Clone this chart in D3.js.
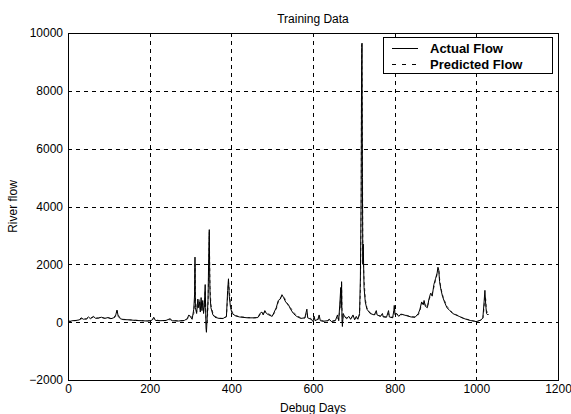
<!DOCTYPE html>
<html>
<head>
<meta charset="utf-8">
<script src="https://cdn.jsdelivr.net/npm/d3@7"></script>
<style>
  html, body { margin: 0; padding: 0; background: #fff; }
  svg { display: block; font-family: "Liberation Sans", Arial, sans-serif; }
</style>
</head>
<body>
<svg id="chart" width="571" height="414"></svg>
<script>
// Daily river flow: observed vs. model output over the training period
const days = [0,5,10,20,28,32,38,45,50,55,62,68,75,82,90,98,105,112,117,120,123,128,135,150,165,180,195,205,210,214,225,240,250,255,270,285,292,296,300,304,308,310,311,312,315,318,320,322,324,326,328,330,332,334,336,337,338,339,341,343,345,346,347,348,350,355,360,370,380,388,391,393,395,398,402,410,420,440,455,465,470,475,478,482,486,492,500,505,510,515,520,524,528,533,540,545,552,560,570,580,585,587,595,600,603,605,612,615,618,625,635,640,645,655,660,663,666,668,669,670,671,672,674,677,682,688,692,698,702,706,710,714,716,718,719,720,721,722,723,725,728,732,740,750,755,757,765,770,772,780,785,787,795,798,799,801,805,810,815,820,828,840,850,858,862,866,870,872,875,880,884,888,892,896,900,904,906,908,910,913,917,922,928,935,942,950,958,965,975,985,995,1000,1005,1012,1016,1019,1021,1023,1025,1028,1030];
const actualFlow = [60,20,50,60,80,150,100,120,180,120,200,130,150,170,130,160,120,150,250,420,200,120,90,80,60,50,40,60,170,60,50,60,120,50,40,60,120,250,180,100,450,950,2250,500,300,800,500,700,350,850,400,750,300,600,1300,500,-200,-350,200,800,2600,3200,1600,900,500,250,170,130,130,200,1100,1500,900,500,300,220,180,150,150,160,300,350,250,400,300,250,200,350,500,750,800,950,850,700,600,450,300,200,130,150,450,150,100,30,200,50,100,250,50,30,50,100,20,60,250,50,700,1200,500,1400,100,-150,300,200,120,200,100,250,80,200,100,300,1500,4500,8700,9650,5000,2000,2700,1200,700,450,300,250,400,250,200,300,180,170,400,180,150,400,580,250,300,200,280,260,230,180,170,300,450,700,600,750,550,500,800,1000,900,1300,1500,1700,1900,1800,1400,1150,900,700,500,400,300,250,200,150,100,60,30,20,40,80,150,700,1100,600,300,250,280];
const predictedFlow = [40,30,45,55,60,120,110,100,150,140,170,150,130,160,140,150,130,140,200,380,250,140,100,80,70,55,45,50,130,80,50,55,90,60,45,50,100,200,220,150,300,700,2000,800,350,600,650,800,450,700,500,650,400,500,1100,700,100,-100,0,600,2200,3100,2000,1200,600,300,200,140,120,180,900,1400,1100,600,350,230,190,160,150,155,250,300,300,350,350,280,220,300,450,700,850,900,900,750,550,500,350,230,150,140,300,200,120,50,150,80,80,150,80,40,40,80,40,50,150,100,500,1000,800,1300,500,0,200,250,150,150,120,200,120,150,120,250,1000,4000,9600,8800,6000,2500,2200,1500,800,500,320,260,300,260,210,260,200,180,300,200,160,300,500,300,280,220,250,270,240,190,180,250,400,650,650,700,600,520,750,950,1000,1200,1450,1650,1850,1850,1500,1200,950,750,550,420,330,260,210,160,110,70,40,30,50,70,120,500,900,800,400,300,260];

const xTicks = [0, 200, 400, 600, 800, 1000, 1200];
const yTicks = [-2000, 0, 2000, 4000, 6000, 8000, 10000];
const legendLabels = ["Actual Flow", "Predicted Flow"];

const svg = d3.select("#chart");
const plot = { left: 68, right: 558, top: 33, bottom: 380 };

const x = d3.scaleLinear().domain([0, 1200]).range([plot.left, plot.right]);
const y = d3.scaleLinear().domain([-2000, 10000]).range([plot.bottom, plot.top]);

// grid
const grid = svg.append("g").attr("stroke", "#000").attr("stroke-width", 1)
  .attr("stroke-dasharray", "4,4").attr("shape-rendering", "crispEdges");
xTicks.slice(1, -1).forEach(t => {
  grid.append("line").attr("x1", Math.round(x(t)) + 0.5).attr("x2", Math.round(x(t)) + 0.5)
    .attr("y1", plot.top).attr("y2", plot.bottom);
});
yTicks.slice(1, -1).forEach(t => {
  grid.append("line").attr("y1", Math.round(y(t)) + 0.5).attr("y2", Math.round(y(t)) + 0.5)
    .attr("x1", plot.left).attr("x2", plot.right);
});

// series
const pts = (vals) => days.map((d, i) => [d, vals[i]]);
const line = d3.line().x(d => x(d[0])).y(d => y(d[1]));

svg.append("path").datum(pts(predictedFlow))
  .attr("d", line).attr("fill", "none").attr("stroke", "#444")
  .attr("stroke-width", 1).attr("stroke-dasharray", "3,3");
svg.append("path").datum(pts(actualFlow))
  .attr("d", line).attr("fill", "none").attr("stroke", "#000")
  .attr("stroke-width", 1);

// axes box
svg.append("rect").attr("x", plot.left + 0.5).attr("y", plot.top + 0.5)
  .attr("width", plot.right - plot.left).attr("height", plot.bottom - plot.top)
  .attr("fill", "none").attr("stroke", "#000").attr("shape-rendering", "crispEdges");

const xAxis = d3.axisBottom(x).tickValues(xTicks).tickSize(0).tickPadding(4).tickFormat(d3.format("d"));
const yAxis = d3.axisLeft(y).tickValues(yTicks).tickSize(0).tickPadding(5).tickFormat(d3.format("d"));

const gx = svg.append("g").attr("transform", `translate(0,${plot.bottom})`).call(xAxis);
const gy = svg.append("g").attr("transform", `translate(${plot.left},0)`).call(yAxis);
[gx, gy].forEach(g => {
  g.select(".domain").remove();
  g.selectAll("text").attr("font-size", 12).attr("fill", "#000")
    .attr("font-family", "'Liberation Sans', Arial, sans-serif");
});

// titles
svg.append("text").attr("x", (plot.left + plot.right) / 2).attr("y", 23)
  .attr("text-anchor", "middle").attr("font-size", 12).text("Training Data");
svg.append("text").attr("x", (plot.left + plot.right) / 2).attr("y", 412)
  .attr("text-anchor", "middle").attr("font-size", 12).text("Debug Days");
svg.append("text").attr("transform", `translate(17,${(plot.top + plot.bottom) / 2}) rotate(-90)`)
  .attr("text-anchor", "middle").attr("font-size", 12).text("River flow");

// legend
const lg = svg.append("g");
lg.append("rect").attr("x", 383.5).attr("y", 37.5).attr("width", 169).attr("height", 36)
  .attr("fill", "#fff").attr("stroke", "#000").attr("shape-rendering", "crispEdges");
legendLabels.forEach((lab, i) => {
  const ly = 48 + i * 16;
  lg.append("line").attr("x1", 392).attr("x2", 418).attr("y1", ly + 0.5).attr("y2", ly + 0.5)
    .attr("stroke", "#000").attr("stroke-dasharray", i === 0 ? null : "4,6");
  lg.append("text").attr("x", 430).attr("y", ly + 5).attr("font-size", 13)
    .attr("font-weight", "bold").text(lab);
});
</script>
</body>
</html>
